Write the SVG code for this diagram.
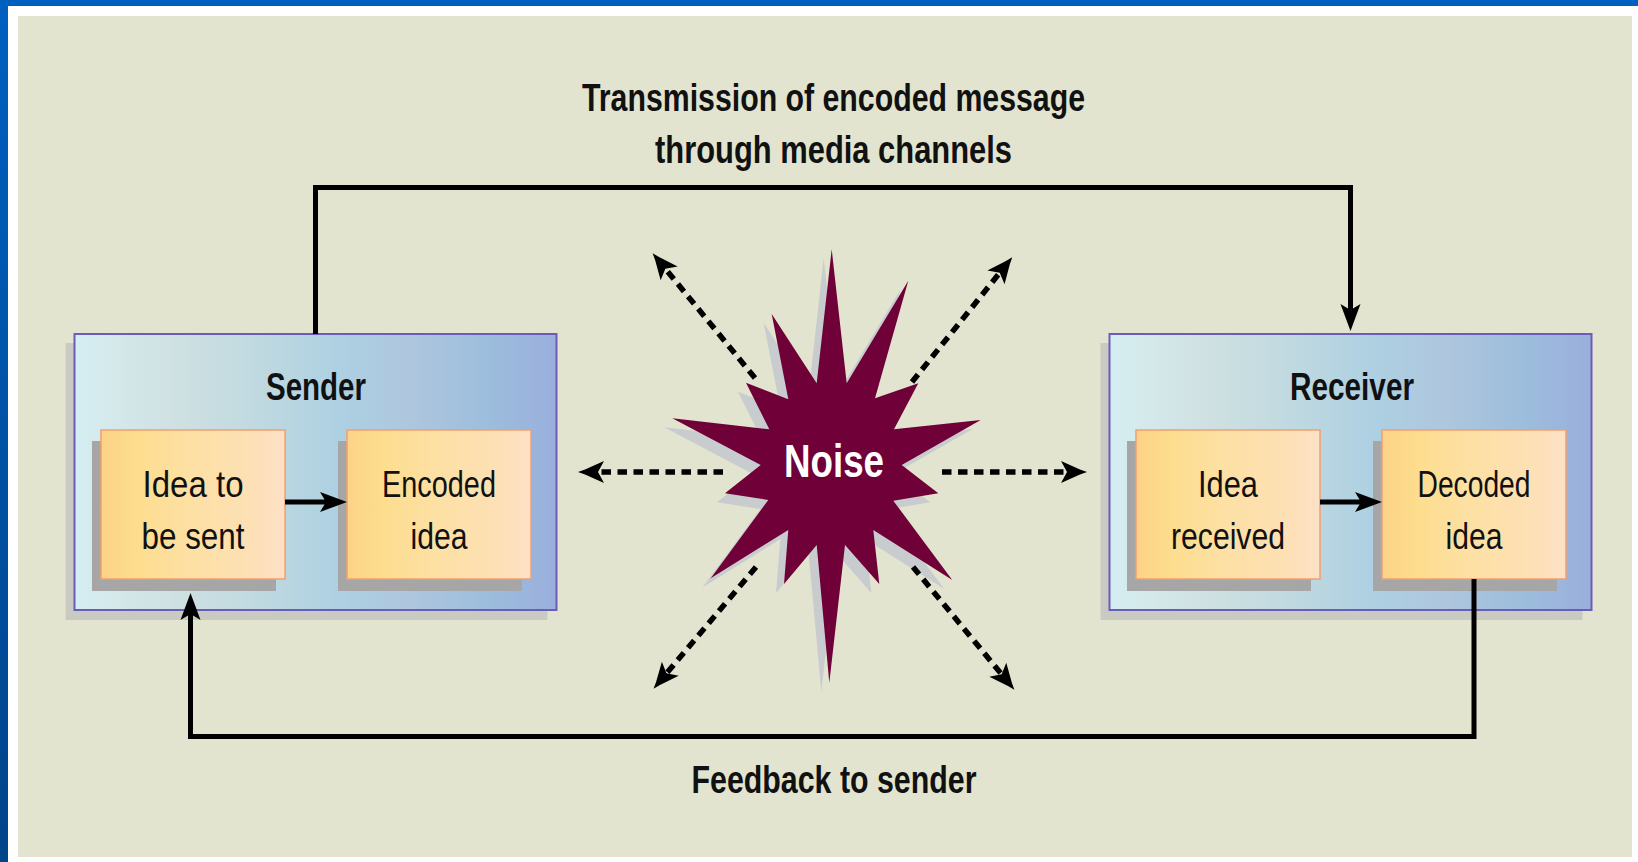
<svg xmlns="http://www.w3.org/2000/svg" width="1638" height="862" viewBox="0 0 1638 862">
<style>
.title{font-family:"Liberation Sans",Arial,sans-serif;font-weight:bold;font-size:38px;fill:#111;text-anchor:middle}
.lbl{font-family:"Liberation Sans",Arial,sans-serif;font-size:37px;fill:#111;text-anchor:middle}
.outer{fill:url(#gBlue);stroke:#6a5cb8;stroke-width:2}
.oshadow{fill:#c9cbc2}
.inner{fill:url(#gOrange);stroke:#f0a070;stroke-width:1.5}
.ishadow{fill:#a6a6a6}
.solid{fill:none;stroke:#000;stroke-width:5}
.dash{fill:none;stroke:#000;stroke-width:5.5;stroke-dasharray:9.5 6.5}
</style>
<defs>
<linearGradient id="gBlue" x1="0" y1="0" x2="1" y2="0">
<stop offset="0" stop-color="#d4eef2"/>
<stop offset="0.08" stop-color="#d5e9ea"/>
<stop offset="0.2" stop-color="#cfe1e2"/>
<stop offset="0.4" stop-color="#bed8e0"/>
<stop offset="0.55" stop-color="#add0e2"/>
<stop offset="0.7" stop-color="#aec6de"/>
<stop offset="0.85" stop-color="#9dbedc"/>
<stop offset="1" stop-color="#9aafdc"/>
</linearGradient>
<linearGradient id="gOrange" x1="0" y1="0" x2="1" y2="0">
<stop offset="0" stop-color="#fcd387"/>
<stop offset="0.2" stop-color="#fddd8e"/>
<stop offset="0.45" stop-color="#fde0a2"/>
<stop offset="0.8" stop-color="#fde0b4"/>
<stop offset="1" stop-color="#fde1c6"/>
</linearGradient>
<linearGradient id="gEdge" x1="0" y1="0" x2="0" y2="1">
<stop offset="0" stop-color="#0060c0"/>
<stop offset="1" stop-color="#00448a"/>
</linearGradient>
<marker id="ah" markerUnits="userSpaceOnUse" viewBox="-20 -12 30 24" markerWidth="30" markerHeight="24" refX="0" refY="0" orient="auto">
<path d="M9,0 L-18,-10 L-12,0 L-18,10 Z" fill="#000"/>
</marker>
<marker id="dh" markerUnits="userSpaceOnUse" viewBox="-22 -13 34 26" markerWidth="34" markerHeight="26" refX="0" refY="0" orient="auto">
<path d="M10,0 L3,-2.5 L-16,-11 L-10,0 L-16,11 L3,2.5 Z" fill="#000"/>
</marker>
</defs>

<g id="frame">
<rect x="0" y="0" width="1638" height="862" fill="#ffffff"/>
<rect x="0" y="0" width="1638" height="6" fill="#0060c0"/>
<rect x="0" y="0" width="8" height="862" fill="url(#gEdge)"/>
<rect x="18" y="16" width="1614" height="841" fill="#e2e4cf"/>
</g>

<g id="sender">
<rect class="oshadow" x="65.5" y="343" width="482" height="277"/>
<rect class="outer" x="74.5" y="334" width="482" height="276"/>
<text class="title" x="316" y="400" textLength="100" lengthAdjust="spacingAndGlyphs">Sender</text>
</g>
<g id="idea-to-be-sent">
<rect class="ishadow" x="92" y="441" width="184" height="150"/>
<rect class="inner" x="101" y="430" width="184" height="149"/>
<text class="lbl" x="193" y="497" textLength="101" lengthAdjust="spacingAndGlyphs">Idea to</text>
<text class="lbl" x="193" y="549" textLength="103" lengthAdjust="spacingAndGlyphs">be sent</text>
</g>
<g id="encoded-idea">
<rect class="ishadow" x="338" y="441" width="184" height="150"/>
<rect class="inner" x="347" y="430" width="184" height="149"/>
<text class="lbl" x="439" y="497" textLength="114" lengthAdjust="spacingAndGlyphs">Encoded</text>
<text class="lbl" x="439" y="549" textLength="57" lengthAdjust="spacingAndGlyphs">idea</text>
</g>

<g id="receiver">
<rect class="oshadow" x="1100.5" y="343" width="482" height="277"/>
<rect class="outer" x="1109.5" y="334" width="482" height="276"/>
<text class="title" x="1352" y="400" textLength="124" lengthAdjust="spacingAndGlyphs">Receiver</text>
</g>
<g id="idea-received">
<rect class="ishadow" x="1127" y="441" width="184" height="150"/>
<rect class="inner" x="1136" y="430" width="184" height="149"/>
<text class="lbl" x="1228" y="497" textLength="60" lengthAdjust="spacingAndGlyphs">Idea</text>
<text class="lbl" x="1228" y="549" textLength="114" lengthAdjust="spacingAndGlyphs">received</text>
</g>
<g id="decoded-idea">
<rect class="ishadow" x="1373" y="441" width="184" height="150"/>
<rect class="inner" x="1382" y="430" width="184" height="149"/>
<text class="lbl" x="1474" y="497" textLength="113" lengthAdjust="spacingAndGlyphs">Decoded</text>
<text class="lbl" x="1474" y="549" textLength="57" lengthAdjust="spacingAndGlyphs">idea</text>
</g>

<g id="noise">
<polygon fill="#c8ccce" transform="translate(-8,9)" points="831.7,249.3 846.7,383.3 908.3,280.7 875,398.3 918.3,383.3 894,429.3 980.7,420 901.7,465 938.3,493.3 893.3,500.7 952.3,580 873.3,530 879.3,584 845,545 829.3,682.7 816.7,545 784,584 788.3,530 710.7,578.3 768.3,500 725,493.3 760.7,465 672.3,418.3 769.3,429.3 746,382.7 788.3,399.3 771.7,314 816.7,383.3"/>
<polygon fill="#700038" points="831.7,249.3 846.7,383.3 908.3,280.7 875,398.3 918.3,383.3 894,429.3 980.7,420 901.7,465 938.3,493.3 893.3,500.7 952.3,580 873.3,530 879.3,584 845,545 829.3,682.7 816.7,545 784,584 788.3,530 710.7,578.3 768.3,500 725,493.3 760.7,465 672.3,418.3 769.3,429.3 746,382.7 788.3,399.3 771.7,314 816.7,383.3"/>
<text x="834" y="477" font-family="Liberation Sans, Arial, sans-serif" font-weight="bold" font-size="47" fill="#ffffff" text-anchor="middle" textLength="100" lengthAdjust="spacingAndGlyphs">Noise</text>
</g>

<g id="connectors">
<path class="solid" d="M315.5,334 V187.5 H1350.5 V322" marker-end="url(#ah)"/>
<path class="solid" d="M1474,579 V736.5 H190.5 V602" marker-end="url(#ah)"/>
<path class="solid" d="M285,502 H338" marker-end="url(#ah)"/>
<path class="solid" d="M1320,502 H1373" marker-end="url(#ah)"/>
<path class="dash" d="M723,472 H588" marker-end="url(#dh)"/>
<path class="dash" d="M942,472 H1077" marker-end="url(#dh)"/>
<path class="dash" d="M755,378 L659,261" marker-end="url(#dh)"/>
<path class="dash" d="M912,382 L1006,265" marker-end="url(#dh)"/>
<path class="dash" d="M756,567 L660,681" marker-end="url(#dh)"/>
<path class="dash" d="M913,567 L1008,682" marker-end="url(#dh)"/>
</g>

<g id="labels">
<text class="title" x="833.5" y="110.5" textLength="503" lengthAdjust="spacingAndGlyphs">Transmission of encoded message</text>
<text class="title" x="833.5" y="163" textLength="357" lengthAdjust="spacingAndGlyphs">through media channels</text>
<text class="title" x="834" y="792.5" textLength="285" lengthAdjust="spacingAndGlyphs">Feedback to sender</text>
</g>
</svg>
